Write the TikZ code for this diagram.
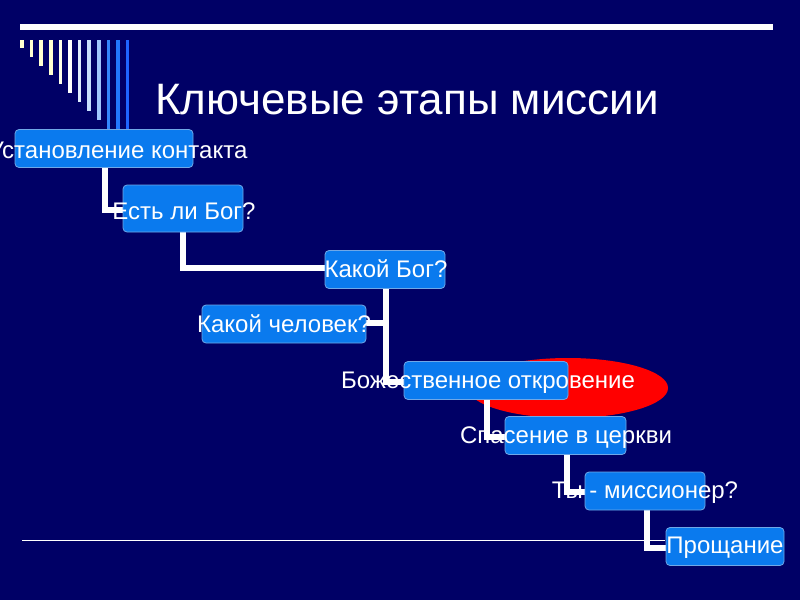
\documentclass[tikz,border=0pt]{standalone}
\usepackage{fontspec}
\setmainfont{Liberation Sans}
\definecolor{bg}{HTML}{000066}
\definecolor{boxc}{HTML}{0A7AEE}
\definecolor{boxb}{HTML}{6FA8E8}
\pgfdeclarelayer{lay0}
\pgfdeclarelayer{lay1}
\pgfsetlayers{lay0,lay1,main}
\begin{document}
\begin{tikzpicture}[x=1pt,y=-1pt,
  stepbox/.style={draw=boxb,line width=0.8pt,fill=boxc,rounded corners=4pt,minimum width=#1,minimum height=38pt,inner sep=0pt},
  lbl/.style={text=white,font=\fontsize{24}{28}\selectfont,inner sep=0pt},
  conn/.style={draw=white,line width=6pt}]
\begin{pgfonlayer}{lay0}
\fill[bg] (0,0) rectangle (800,600);
\fill[red] (568,388) ellipse (100 and 30);
\end{pgfonlayer}
\useasboundingbox (0,0) rectangle (800,600);
% decoration
\draw[white,line width=6pt] (20,27) -- (773,27);
\foreach \i/\c in {0/FFFFD0,1/FFFFD0,2/FFFFD0,3/FFFFD0,4/FFFFE8,5/FFFFFF,6/E0EEFF,7/C8E0FF,8/A0C8FF,9/3388FF,10/2277FF,11/1F66FF}{
  \definecolor{sc}{HTML}{\c}
  \draw[sc,line width=3.5pt] (22+9.6*\i,40) -- (22+9.6*\i,{48+9*\i});
}
\node[text=white,font=\fontsize{44}{50}\selectfont,anchor=west,inner sep=0pt] (title) at (155,100) {Ключевые этапы миссии};
\draw[white,line width=0.8pt] (22,540) -- (665,540);
% boxes
\node[stepbox=178pt] (n1) at (104,148.5) {};
\node[stepbox=120pt,minimum height=47pt] (n2) at (183,208.5) {};
\node[stepbox=120pt] (n3) at (385,269.5) {};
\node[stepbox=164pt] (n4) at (284,324) {};
\node[stepbox=164pt] (n5) at (486,380.5) {};
\node[stepbox=121pt] (n6) at (565.5,435.5) {};
\node[stepbox=120pt] (n7) at (645,491) {};
\node[stepbox=118pt] (n8) at (725,546.5) {};
% connectors
\coordinate (c1) at (105,210);
\coordinate (c2) at (183,268);
\coordinate (c3) at (386,382);
\coordinate (c3b) at (386,323);
\coordinate (c5) at (487,437);
\coordinate (c6) at (567,492);
\coordinate (c7) at (647,548);
\begin{pgfonlayer}{lay1}
\draw[conn] (n1.south -| c1) -- (c1) -- (c1 -| n2.west);
\draw[conn] (n2.south) -- (c2) -- (c2 -| n3.west);
\draw[conn] (n3.south -| c3) -- (c3) -- (c3 -| n5.west);
\draw[conn] (c3b) -- (c3b -| n4.east);
\draw[conn] (n5.south -| c5) -- (c5) -- (c5 -| n6.west);
\draw[conn] (n6.south -| c6) -- (c6) -- (c6 -| n7.west);
\draw[conn] (n7.south -| c7) -- (c7) -- (c7 -| n8.west);
\end{pgfonlayer}
% labels
\node[lbl] (t1) at (118,150) {Установление контакта};
\node[lbl] (t2) at (184,211) {Есть ли Бог?};
\node[lbl] (t3) at (386,269) {Какой Бог?};
\node[lbl] (t4) at (284,324) {Какой человек?};
\node[lbl] (t5) at (488,383) {Божественное откровение};
\node[lbl] (t6) at (566,438) {Спасение в церкви};
\node[lbl] (t7) at (645,493) {Ты - миссионер?};
\node[lbl] (t8) at (725,548) {Прощание};
\end{tikzpicture}
\end{document}
